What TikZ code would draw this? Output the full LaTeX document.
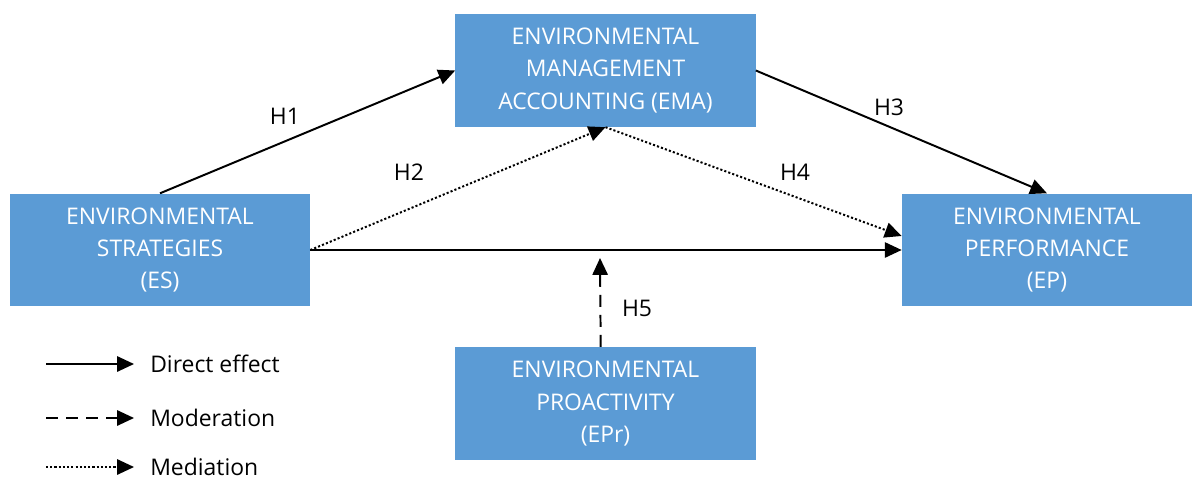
\documentclass[tikz,border=0pt]{standalone}
\usepackage{fontspec}
\setmainfont{Open Sans}
\usepackage{tikz}
\usetikzlibrary{arrows.meta}
\usetikzlibrary{positioning}

\definecolor{boxblue}{RGB}{91,155,213}

\begin{document}
\begin{tikzpicture}[x=0.025cm, y=-0.025cm,
    every node/.style={font=\fontsize{16.3}{23}\selectfont},
    block/.style={rectangle, fill=boxblue, text=white, align=center,
        minimum width=7.5cm, minimum height=2.82cm, inner sep=0pt},
    effect/.style={line width=1.4pt, -{Triangle[length=0.42cm, width=0.38cm]}},
    mediation/.style={effect, dash pattern=on 1.5pt off 1.5pt},
    moderation/.style={effect, dash pattern=on 0.3cm off 0.2cm}]

        % Canvas
        \useasboundingbox (0, 0) rectangle (1194, 480);

        % Constructs
        \node[block] (es) at (160, 250) {ENVIRONMENTAL\\STRATEGIES\\(ES)};
        \node[block] (ema) at (605.5, 70.5) {ENVIRONMENTAL\\MANAGEMENT\\ACCOUNTING (EMA)};
        \node[block, minimum width=7.25cm] (ep) at (1047, 250) {ENVIRONMENTAL\\PERFORMANCE\\(EP)};
        \node[block] (epr) at (605.5, 403.5) {ENVIRONMENTAL\\PROACTIVITY\\(EPr)};

        % Hypotheses
        \draw[effect] (es.north) -- (ema.west);
        \draw[effect] (ema.east) -- (ep.north);
        \draw[mediation] (es.east) -- (ema.south);
        \draw[mediation] (ema.south) -- ([yshift=0.35cm]ep.west);
        \draw[effect] (es.east) -- (ep.west);

        % Moderating effect on the direct path
        \coordinate (mod) at (600, 258);
        \draw[moderation] ([xshift=-0.12cm]epr.north) -- (mod);

        % Labels
        \node (h1) at (285, 116) {H1};
        \node (h2) at (409, 172) {H2};
        \node (h3) at (889, 107) {H3};
        \node (h4) at (795, 172) {H4};
        \node (h5) at (637, 308) {H5};

        % Legend
        \foreach \y/\kind/\txt [count=\i] in {364/effect/Direct effect, 418/moderation/Moderation, 467/mediation/Mediation} {
          \coordinate (la\i) at (46, \y);
          \coordinate (lb\i) at (134, \y);
          \node[anchor=west, inner sep=0pt] (lt\i) at (150, \y) {\txt};
          \draw[\kind] (la\i) -- (lb\i);
        }

      \end{tikzpicture}
\end{document}
